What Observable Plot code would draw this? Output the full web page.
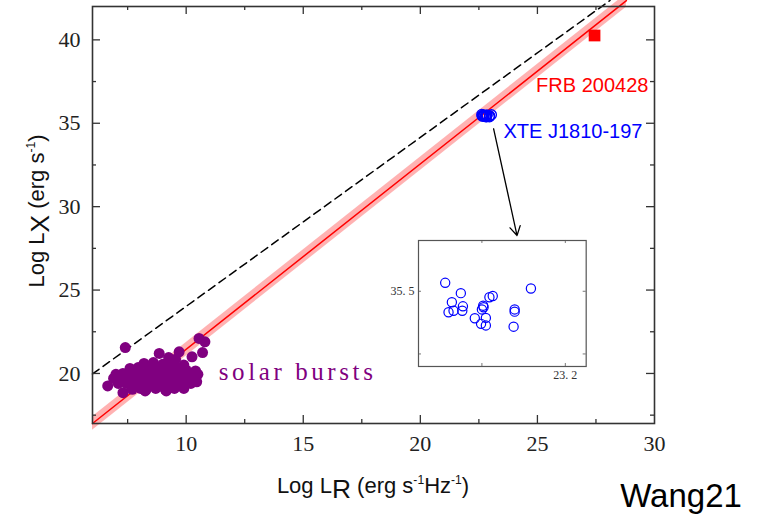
<!DOCTYPE html>
<html><head><meta charset="utf-8">
<script src="https://cdn.jsdelivr.net/npm/d3@7"></script>
<script src="https://cdn.jsdelivr.net/npm/@observablehq/plot@0.6"></script>
<style>
body{margin:0;background:#fff;}
#wrap{position:relative;width:761px;height:514px;overflow:hidden;background:#fff;}
#wrap svg{position:absolute;left:0;top:0;}
.ttl{position:absolute;white-space:nowrap;color:#111;line-height:1;font-family:"Liberation Sans",Arial,sans-serif;font-size:22px;}
.ttl sup{font-size:0.55em;vertical-align:0;position:relative;top:-0.75em;}
.big{font-size:1.2em;position:relative;top:0.18em;}
</style></head><body>
<div id="wrap"></div>
<script>
// ---- data ----
const xMajor = [10, 15, 20, 25, 30];
const xMinor = [7.5, 12.5, 17.5, 22.5, 27.5];
const yMajor = [20, 25, 30, 35, 40];
const yMinor = [17.5, 22.5, 27.5, 32.5, 37.5];

const solarX = [7.40,10.55,10.80,8.85,9.70,10.25,10.70,9.25,9.55,
  8.20,8.60,9.00,9.40,9.90,
  7.60,7.95,8.40,8.80,9.20,9.60,10.00,10.40,
  7.00,7.30,7.70,8.10,8.50,8.90,9.30,9.70,10.10,10.50,
  6.90,7.25,7.60,8.00,8.35,8.75,9.15,9.55,9.95,10.30,
  6.65,7.10,7.45,7.85,8.20,8.60,9.00,9.40,9.80,10.20,10.45,
  7.30,7.70,8.05,8.30,8.70,9.10,9.50,9.90,8.25,9.15];
const solarY = [21.55,22.10,21.90,21.20,21.30,21.00,21.25,20.95,20.85,
  20.60,20.65,20.55,20.60,20.50,
  20.30,20.35,20.30,20.25,20.35,20.30,20.20,20.15,
  19.95,20.00,19.95,20.00,19.95,20.05,19.95,20.00,19.95,19.95,
  19.70,19.65,19.70,19.65,19.70,19.70,19.70,19.65,19.70,19.70,
  19.25,19.40,19.40,19.35,19.40,19.40,19.40,19.40,19.35,19.40,19.50,
  18.85,19.05,19.10,19.05,19.10,19.05,19.10,19.10,18.95,18.95];

const xteX = [22.624,22.699,22.656,22.709,22.706,22.664,22.640,22.806,22.800,22.836,
  22.852,22.766,22.796,22.819,22.819,22.957,22.957,22.952,23.035,22.808];
const xteY = [35.527,35.494,35.465,35.452,35.438,35.438,35.433,35.454,35.442,35.481,
  35.485,35.414,35.396,35.415,35.391,35.442,35.435,35.387,35.509,35.449];

const frbX = [27.44], frbY = [40.26];

const fitX = [6.0, 28.8], fitY = [17.0, 42.35];
const fitHalfWidth = 0.4;
const dashX = [6.0, 28.1], dashY = [19.97, 42.36];

const arrowFrom = [23.13, 34.67], arrowTo = [24.13, 28.27];

const frbLabel = {text: "FRB 200428", x: 29.74, y: 37.27};
const xteLabel = {text: "XTE J1810-197", x: 23.55, y: 34.51};
const solarLabel = {text: "solar bursts", x: 11.39, y: 20.1};

const insetXTicks = [22.8, 23.2], insetYTicks = [35.3, 35.5];
const insetXLabels = [23.2], insetYLabels = [35.5];

// ---- build ----
const solar = solarX.map((x, i) => ({x, y: solarY[i]}));
const xte = xteX.map((x, i) => ({x, y: xteY[i]}));
const frb = frbX.map((x, i) => ({x, y: frbY[i]}));
const fit = fitX.map((x, i) => ({x, y: fitY[i]}));
const dash = dashX.map((x, i) => ({x, y: dashY[i]}));

const W = 761, H = 514, mL = 92, mR = 107, mT = 6, mB = 91;
const fH = H - mT - mB, fW = W - mL - mR;
const axc = "#333";
const sans = "Liberation Sans, Arial, sans-serif";

const main = Plot.plot({
  width: W, height: H,
  marginLeft: mL, marginRight: mR, marginTop: mT, marginBottom: mB,
  style: {background: "transparent", fontFamily: "Liberation Serif, serif", fontSize: "22px", color: "#222", overflow: "visible"},
  x: {domain: [6, 30], ticks: xMajor, tickSize: 0, tickPadding: 12, label: null},
  y: {domain: [17, 42], ticks: yMajor, tickSize: 0, tickPadding: 12, label: null},
  marks: [
    Plot.areaY(fit, {x: "x", y1: d => d.y - fitHalfWidth, y2: d => d.y + fitHalfWidth, fill: "#ff0000", fillOpacity: 0.3}),
    Plot.line(fit, {x: "x", y: "y", stroke: "#ff0000", strokeWidth: 1.5}),
    Plot.line(dash, {x: "x", y: "y", stroke: "#000", strokeWidth: 1.5, strokeDasharray: "8,5"}),
    Plot.dot(solar, {x: "x", y: "y", r: 5.5, fill: "#800080", stroke: "none"}),
    Plot.dot(xte, {x: "x", y: "y", r: 5, stroke: "#0000ff", strokeWidth: 1.3, fill: "none"}),
    Plot.dot(frb, {x: "x", y: "y", r: 6.6, symbol: "square", fill: "#ff0000", stroke: "none"}),
    Plot.arrow([{x1: arrowFrom[0], y1: arrowFrom[1], x2: arrowTo[0], y2: arrowTo[1]}],
      {x1: "x1", y1: "y1", x2: "x2", y2: "y2", stroke: "#000", strokeWidth: 1.3, headLength: 12}),
    Plot.text([frbLabel], {x: "x", y: "y", text: "text", fill: "#ff0000", textAnchor: "end", fontFamily: sans, fontSize: 20}),
    Plot.text([xteLabel], {x: "x", y: "y", text: "text", fill: "#0000ff", textAnchor: "start", fontFamily: sans, fontSize: 20}),
    Plot.text([solarLabel], {x: "x", y: "y", text: "text", fill: "#800080", textAnchor: "start", fontFamily: "Liberation Serif, serif", fontSize: 25}),
    Plot.tickX(xMajor.filter(v => v < 30), {x: d => d, insetTop: fH - 8, stroke: axc, strokeWidth: 1.3}),
    Plot.tickX(xMajor.filter(v => v < 30), {x: d => d, insetBottom: fH - 8, stroke: axc, strokeWidth: 1.3}),
    Plot.tickX(xMinor, {x: d => d, insetTop: fH - 4, stroke: axc, strokeWidth: 1.3}),
    Plot.tickX(xMinor, {x: d => d, insetBottom: fH - 4, stroke: axc, strokeWidth: 1.3}),
    Plot.tickY(yMajor, {y: d => d, insetRight: fW - 8, stroke: axc, strokeWidth: 1.3}),
    Plot.tickY(yMajor, {y: d => d, insetLeft: fW - 8, stroke: axc, strokeWidth: 1.3}),
    Plot.tickY(yMinor, {y: d => d, insetRight: fW - 4, stroke: axc, strokeWidth: 1.3}),
    Plot.tickY(yMinor, {y: d => d, insetLeft: fW - 4, stroke: axc, strokeWidth: 1.3}),
    Plot.frame({stroke: axc, strokeWidth: 1.6})
  ]
});
d3.select(main).selectAll("text").filter(function(){ return this.textContent === solarLabel.text; })
  .attr("letter-spacing", "3.6px");

// inset
const iL = 30, iR = 6, iT = 6, iB = 22, iW = 167.7, iH = 126;
const inset = Plot.plot({
  width: iL + iW + iR, height: iT + iH + iB,
  marginLeft: iL, marginRight: iR, marginTop: iT, marginBottom: iB,
  style: {background: "transparent", fontFamily: "Liberation Serif, serif", fontSize: "12px", color: "#333"},
  x: {domain: [22.496, 23.3], ticks: insetXLabels, tickSize: 0, tickPadding: 4, tickFormat: d => d.toFixed(1).replace(".", ". "), label: null},
  y: {domain: [35.26, 35.662], ticks: insetYLabels, tickSize: 0, tickPadding: 4, tickFormat: d => d.toFixed(1).replace(".", ". "), label: null},
  marks: [
    Plot.dot(xte, {x: "x", y: "y", r: 4.6, stroke: "#0000ff", strokeWidth: 1.2, fill: "none"}),
    Plot.tickX(insetXTicks, {x: d => d, insetTop: iH - 3, stroke: "#777"}),
    Plot.tickX(insetXTicks, {x: d => d, insetBottom: iH - 3, stroke: "#777"}),
    Plot.tickY(insetYTicks, {y: d => d, insetRight: iW - 3, stroke: "#777"}),
    Plot.tickY(insetYTicks, {y: d => d, insetLeft: iW - 3, stroke: "#777"}),
    Plot.frame({stroke: "#555", strokeWidth: 1.2})
  ]
});
inset.style.left = (418.3 - iL) + "px";
inset.style.top = (240 - iT) + "px";

const wrap = document.getElementById("wrap");
wrap.appendChild(main);
wrap.appendChild(inset);

function addDiv(html, css, cls) {
  const d = document.createElement("div");
  d.className = cls || "ttl";
  d.innerHTML = html;
  Object.assign(d.style, css);
  wrap.appendChild(d);
  return d;
}
addDiv('Log L<span class="big">R</span> (erg s<sup>-1</sup>Hz<sup>-1</sup>)',
  {left: "373px", top: "484px", transform: "translate(-50%,-50%)"});
addDiv('Log L<span class="big">X</span> (erg s<sup>-1</sup>)',
  {left: "35px", top: "211px", transform: "translate(-50%,-50%) rotate(-90deg)"});
addDiv('Wang21', {left: "681px", top: "495px", transform: "translate(-50%,-50%)", fontFamily: sans, fontSize: "33px", color: "#000"});
</script>
</body></html>
